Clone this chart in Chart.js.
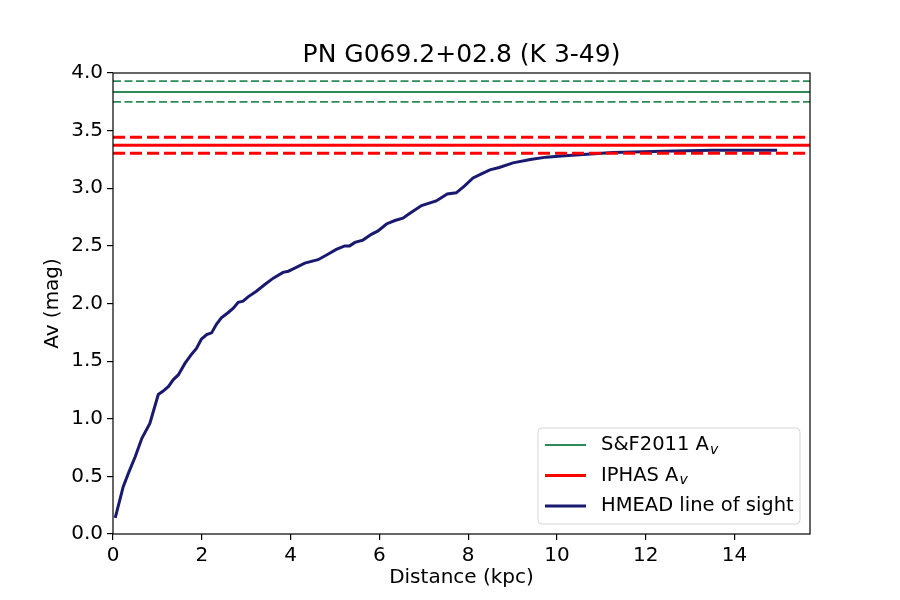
<!DOCTYPE html>
<html>
<head>
<meta charset="utf-8">
<script src="https://cdn.jsdelivr.net/npm/chart.js@4.4.0/dist/chart.umd.min.js"></script>
<style>
  html, body { margin: 0; padding: 0; background: #fff; }
  #wrap { width: 900px; height: 600px; }
</style>
</head>
<body>
<div id="wrap"><canvas id="chart" width="900" height="600"></canvas></div>
<script>
// line of sight extinction
const distKpc = [0.05, 0.23, 0.35, 0.50, 0.65, 0.83, 1.02, 1.13, 1.25, 1.36, 1.47, 1.62, 1.77, 1.88, 1.99,
                 2.11, 2.22, 2.33, 2.44, 2.59, 2.71, 2.82, 2.93, 3.05, 3.23, 3.42, 3.61, 3.83, 3.95, 4.06,
                 4.32, 4.62, 4.85, 5.03, 5.22, 5.33, 5.45, 5.63, 5.82, 5.97, 6.16, 6.35, 6.53, 6.68, 6.95,
                 7.28, 7.53, 7.73, 7.92, 8.11, 8.30, 8.49, 8.70, 9.01, 9.40, 9.76, 10.10, 10.51, 11.26,
                 12.38, 13.51, 14.96];
const hmeadAv = [0.14, 0.41, 0.53, 0.67, 0.83, 0.96, 1.21, 1.24, 1.28, 1.34, 1.38, 1.48, 1.56, 1.61, 1.69,
                 1.73, 1.745, 1.82, 1.875, 1.92, 1.96, 2.01, 2.02, 2.06, 2.107, 2.165, 2.22, 2.27, 2.28, 2.30,
                 2.35, 2.38, 2.43, 2.47, 2.50, 2.50, 2.53, 2.55, 2.60, 2.63, 2.69, 2.72, 2.74, 2.78, 2.85,
                 2.89, 2.95, 2.96, 3.02, 3.09, 3.125, 3.16, 3.18, 3.22, 3.25, 3.27, 3.28, 3.29, 3.31,
                 3.32, 3.33, 3.33];

// reference values (value, lower, upper)
const sfAv = [3.835, 3.75, 3.93];
const iphasAv = [3.374, 3.304, 3.443];

const xLimits = [0, 15.7];
const yLimits = [0, 4.0];
const xTicks = [0, 2, 4, 6, 8, 10, 12, 14];

const hline = (v) => xLimits.map(x => ({ x: x, y: v }));

const GREEN = '#2e8b57', RED = '#ff0000', NAVY = '#191970';

const datasets = [
    { label: 'S&F2011', data: hline(sfAv[0]), borderColor: GREEN, borderWidth: 1.8 },
    { data: hline(sfAv[1]), borderColor: GREEN, borderWidth: 1.8, borderDash: [8, 3.5] },
    { data: hline(sfAv[2]), borderColor: GREEN, borderWidth: 1.8, borderDash: [8, 3.5] },
    { label: 'IPHAS', data: hline(iphasAv[0]), borderColor: RED, borderWidth: 3 },
    { data: hline(iphasAv[1]), borderColor: RED, borderWidth: 3, borderDash: [12, 5] },
    { data: hline(iphasAv[2]), borderColor: RED, borderWidth: 3, borderDash: [12, 5] },
    { label: 'HMEAD line of sight', data: distKpc.map((d, i) => ({ x: d, y: hmeadAv[i] })),
      borderColor: NAVY, borderWidth: 3, tension: 0 }
];

// frame + legend with subscripts, matplotlib style
const framePlugin = {
    id: 'frame',
    afterDraw(chart) {
        const { ctx, chartArea: a } = chart;
        ctx.save();
        ctx.strokeStyle = '#000';
        ctx.lineWidth = 1.2;
        ctx.strokeRect(a.left, a.top, a.right - a.left, a.bottom - a.top);

        // legend box
        const bx = 538, by = 428, bw = 262, bh = 96, r = 4;
        ctx.beginPath();
        ctx.moveTo(bx + r, by);
        ctx.arcTo(bx + bw, by, bx + bw, by + bh, r);
        ctx.arcTo(bx + bw, by + bh, bx, by + bh, r);
        ctx.arcTo(bx, by + bh, bx, by, r);
        ctx.arcTo(bx, by, bx + bw, by, r);
        ctx.closePath();
        ctx.fillStyle = 'rgba(255,255,255,0.8)';
        ctx.fill();
        ctx.strokeStyle = '#d6d6d6';
        ctx.lineWidth = 1;
        ctx.stroke();

        const rows = [
            { color: GREEN, w: 1.8, text: 'S&F2011 A', sub: 'v' },
            { color: RED, w: 3, text: 'IPHAS A', sub: 'v' },
            { color: NAVY, w: 3, text: 'HMEAD line of sight', sub: '' }
        ];
        ctx.textBaseline = 'middle';
        rows.forEach((row, i) => {
            const y = 445 + i * 30.5;
            ctx.beginPath();
            ctx.moveTo(545, y);
            ctx.lineTo(586, y);
            ctx.strokeStyle = row.color;
            ctx.lineWidth = row.w;
            ctx.stroke();
            ctx.fillStyle = '#000';
            ctx.font = '19.5px "DejaVu Sans"';
            ctx.fillText(row.text, 601, y);
            if (row.sub) {
                const tw = ctx.measureText(row.text).width;
                ctx.font = 'italic 14px "DejaVu Sans"';
                ctx.fillText(row.sub, 601 + tw + 1, y + 5);
            }
        });
        ctx.restore();
    }
};

new Chart(document.getElementById('chart').getContext('2d'), {
    type: 'line',
    data: { datasets: datasets },
    options: {
        responsive: false,
        animation: false,
        events: [],
        layout: { padding: { left: 41, right: 90, top: 0, bottom: 10 } },
        elements: { point: { radius: 0 }, line: { fill: false } },
        plugins: {
            legend: { display: false },
            tooltip: { enabled: false },
            title: {
                display: true,
                text: 'PN G069.2+02.8 (K 3-49)',
                color: '#000',
                fullSize: false,
                font: { family: 'DejaVu Sans', size: 25, weight: 'normal' },
                padding: { top: 40, bottom: 3 }
            }
        },
        scales: {
            x: {
                type: 'linear',
                min: xLimits[0], max: xLimits[1],
                afterBuildTicks: (s) => { s.ticks = xTicks.map(v => ({ value: v })); },
                ticks: {
                    color: '#000', padding: 4, maxRotation: 0, autoSkip: false,
                    font: { family: 'DejaVu Sans', size: 20 },
                    callback: (v) => String(v)
                },
                grid: { display: true, drawOnChartArea: false, drawTicks: true, tickLength: 6, color: '#000', lineWidth: 1.2 },
                border: { display: false },
                title: { display: true, text: 'Distance (kpc)', color: '#000', padding: 0,
                         font: { family: 'DejaVu Sans', size: 20 } },
                afterFit: (s) => { s.height = 56; }
            },
            y: {
                type: 'linear',
                min: yLimits[0], max: yLimits[1],
                ticks: {
                    stepSize: 0.5, color: '#000', padding: 4,
                    font: { family: 'DejaVu Sans', size: 20 },
                    callback: (v) => v.toFixed(1)
                },
                grid: { display: true, drawOnChartArea: false, drawTicks: true, tickLength: 6, color: '#000', lineWidth: 1.2 },
                border: { display: false },
                title: { display: true, text: 'Av (mag)', color: '#000', padding: 0,
                         font: { family: 'DejaVu Sans', size: 20 } },
                afterFit: (s) => { s.width = 72; }
            }
        }
    },
    plugins: [framePlugin]
});
</script>
</body>
</html>
